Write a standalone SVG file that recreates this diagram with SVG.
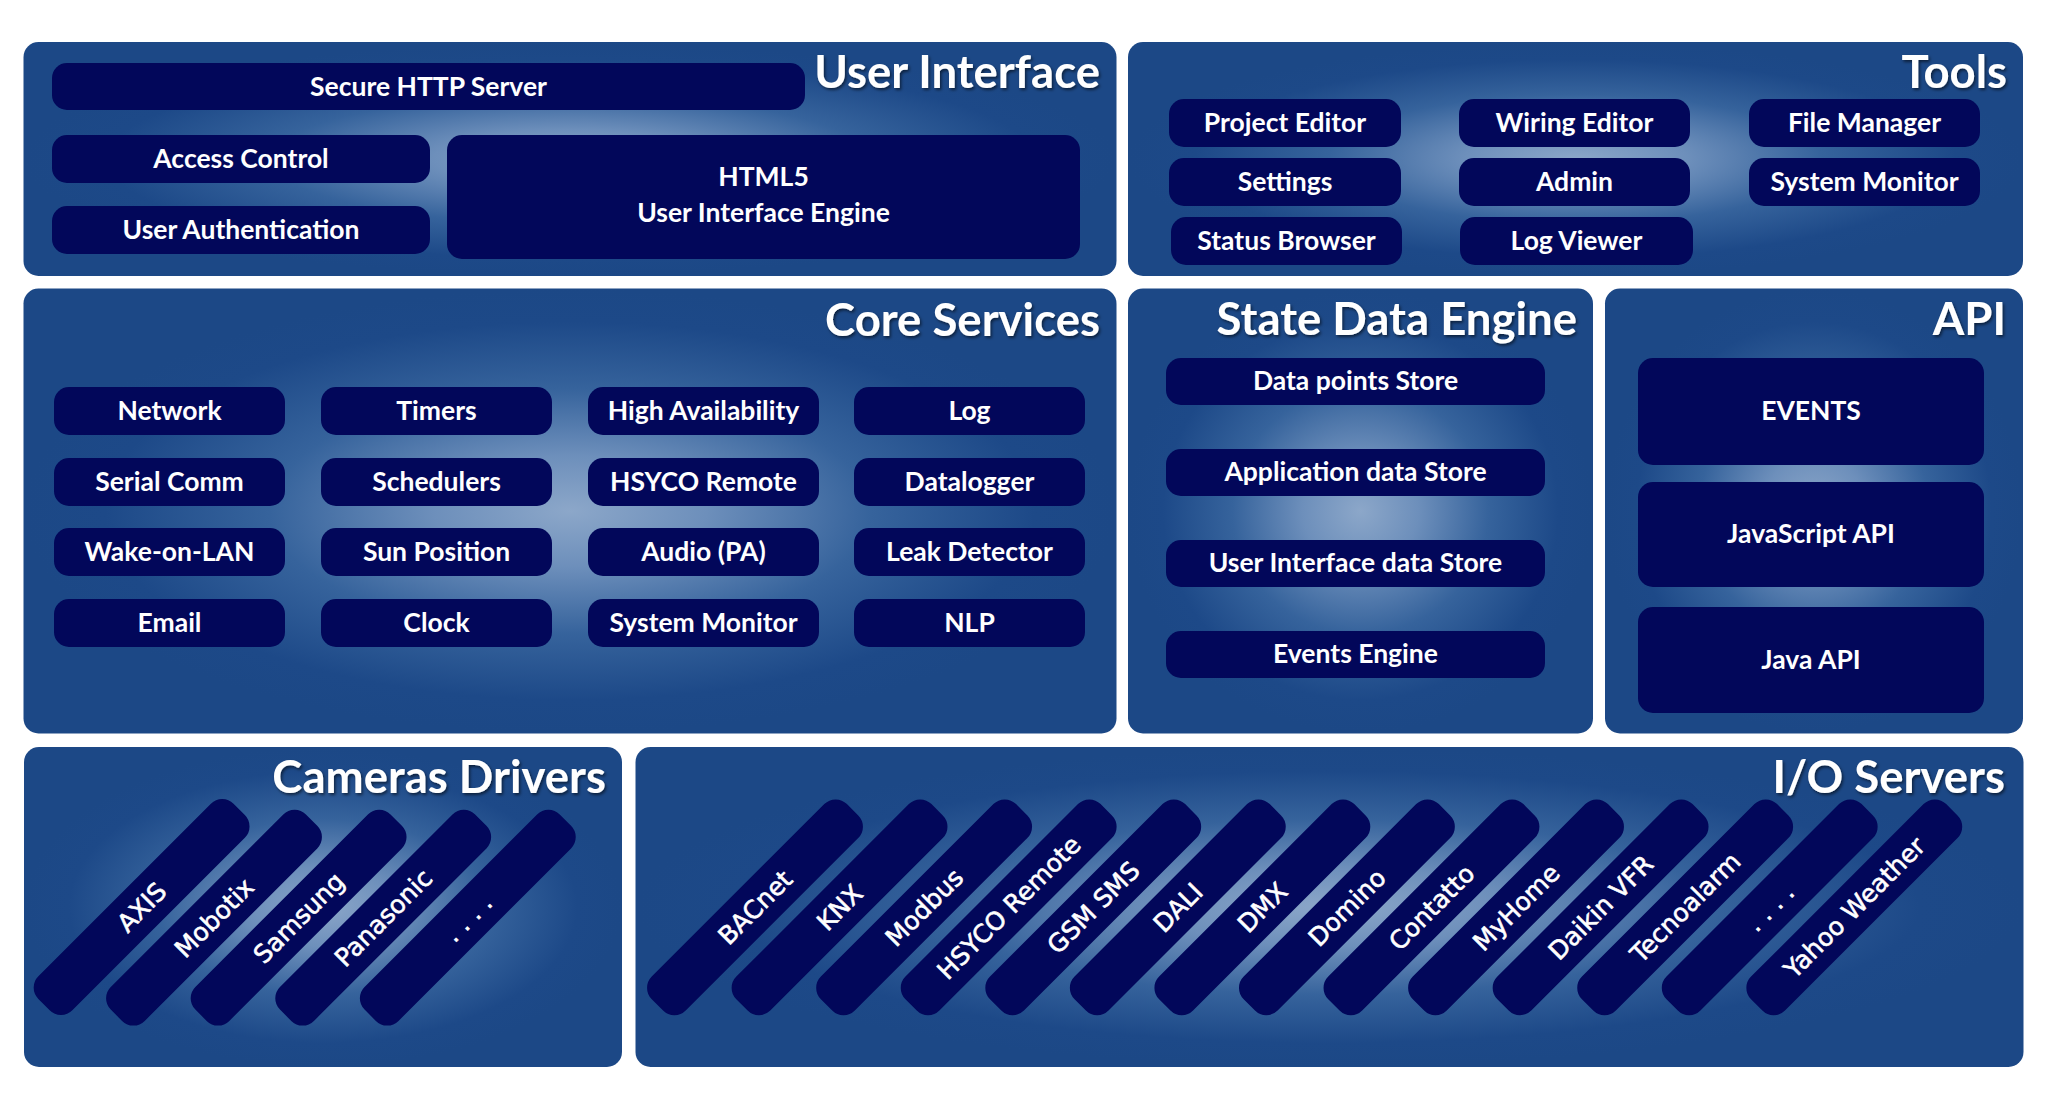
<svg xmlns="http://www.w3.org/2000/svg" width="2048" height="1108" viewBox="0 0 2048 1108">
<defs>
<radialGradient id="pg" cx="0.5" cy="0.5" r="0.5">
<stop offset="0" stop-color="#8ca7c9"/>
<stop offset="0.25" stop-color="#6d8fbb"/>
<stop offset="0.55" stop-color="#36639c"/>
<stop offset="0.85" stop-color="#1d4988"/>
<stop offset="1" stop-color="#1c4886"/>
</radialGradient>
<filter id="tsh" x="-10%" y="-20%" width="120%" height="150%">
<feDropShadow dx="1.5" dy="2" stdDeviation="1.5" flood-color="#000" flood-opacity="0.55"/>
</filter>
</defs>
<style>
.panel{fill:url(#pg);}
.node{fill:#02075a;}
.pill{fill:#02075a;}
.lbl{font-family:Lato,'Liberation Sans',sans-serif;font-weight:700;font-size:26.5px;fill:#fff;text-anchor:middle;}
.ttl{font-family:Lato,'Liberation Sans',sans-serif;font-weight:700;font-size:45.5px;fill:#fff;text-anchor:end;filter:url(#tsh);}
.plbl{font-family:'DejaVu Sans','Liberation Sans',sans-serif;font-size:25px;fill:#fff;stroke:#fff;stroke-width:0.6;text-anchor:middle;}
</style>
<rect width="2048" height="1108" fill="#fff"/>

<!-- User Interface -->
<g id="panel-ui">
<rect class="panel" x="23.5" y="42" width="1093" height="234" rx="15"/>
<text class="ttl" x="1100" y="88">User Interface</text>
</g>
<g id="ui-secure-http"><rect class="node" x="52" y="63" width="753" height="47" rx="15"/><text class="lbl" x="428.5" y="96">Secure HTTP Server</text></g>
<g id="ui-access-control"><rect class="node" x="52" y="135" width="378" height="48" rx="15"/><text class="lbl" x="241" y="168">Access Control</text></g>
<g id="ui-user-auth"><rect class="node" x="52" y="206" width="378" height="48" rx="15"/><text class="lbl" x="241" y="239">User Authentication</text></g>
<g id="ui-html5"><rect class="node" x="447" y="135" width="633" height="124" rx="15"/><text class="lbl" x="763.5" y="186">HTML5</text><text class="lbl" x="763.5" y="222">User Interface Engine</text></g>

<!-- Tools -->
<g id="panel-tools">
<rect class="panel" x="1128" y="42" width="895" height="234" rx="15"/>
<text class="ttl" x="2007" y="88">Tools</text>
</g>
<g id="tools-project-editor"><rect class="node" x="1169" y="99" width="232" height="48" rx="15"/><text class="lbl" x="1285" y="132">Project Editor</text></g>
<g id="tools-wiring-editor"><rect class="node" x="1459" y="99" width="231" height="48" rx="15"/><text class="lbl" x="1574.5" y="132">Wiring Editor</text></g>
<g id="tools-file-manager"><rect class="node" x="1749" y="99" width="231" height="48" rx="15"/><text class="lbl" x="1864.5" y="132">File Manager</text></g>
<g id="tools-settings"><rect class="node" x="1169" y="158" width="232" height="48" rx="15"/><text class="lbl" x="1285" y="191">Settings</text></g>
<g id="tools-admin"><rect class="node" x="1459" y="158" width="231" height="48" rx="15"/><text class="lbl" x="1574.5" y="191">Admin</text></g>
<g id="tools-system-monitor"><rect class="node" x="1749" y="158" width="231" height="48" rx="15"/><text class="lbl" x="1864.5" y="191">System Monitor</text></g>
<g id="tools-status-browser"><rect class="node" x="1171" y="217" width="231" height="48" rx="15"/><text class="lbl" x="1286.5" y="250">Status Browser</text></g>
<g id="tools-log-viewer"><rect class="node" x="1460" y="217" width="233" height="48" rx="15"/><text class="lbl" x="1576.5" y="250">Log Viewer</text></g>

<!-- Core Services -->
<g id="panel-core">
<rect class="panel" x="23.5" y="288.5" width="1093" height="445" rx="15"/>
<text class="ttl" x="1100" y="336">Core Services</text>
</g>
<g id="core-network"><rect class="node" x="54" y="387" width="231" height="48" rx="15"/><text class="lbl" x="169.5" y="420">Network</text></g>
<g id="core-timers"><rect class="node" x="321" y="387" width="231" height="48" rx="15"/><text class="lbl" x="436.5" y="420">Timers</text></g>
<g id="core-ha"><rect class="node" x="588" y="387" width="231" height="48" rx="15"/><text class="lbl" x="703.5" y="420">High Availability</text></g>
<g id="core-log"><rect class="node" x="854" y="387" width="231" height="48" rx="15"/><text class="lbl" x="969.5" y="420">Log</text></g>
<g id="core-serial"><rect class="node" x="54" y="458" width="231" height="48" rx="15"/><text class="lbl" x="169.5" y="491">Serial Comm</text></g>
<g id="core-schedulers"><rect class="node" x="321" y="458" width="231" height="48" rx="15"/><text class="lbl" x="436.5" y="491">Schedulers</text></g>
<g id="core-hsyco-remote"><rect class="node" x="588" y="458" width="231" height="48" rx="15"/><text class="lbl" x="703.5" y="491">HSYCO Remote</text></g>
<g id="core-datalogger"><rect class="node" x="854" y="458" width="231" height="48" rx="15"/><text class="lbl" x="969.5" y="491">Datalogger</text></g>
<g id="core-wol"><rect class="node" x="54" y="528" width="231" height="48" rx="15"/><text class="lbl" x="169.5" y="561">Wake-on-LAN</text></g>
<g id="core-sun"><rect class="node" x="321" y="528" width="231" height="48" rx="15"/><text class="lbl" x="436.5" y="561">Sun Position</text></g>
<g id="core-audio"><rect class="node" x="588" y="528" width="231" height="48" rx="15"/><text class="lbl" x="703.5" y="561">Audio (PA)</text></g>
<g id="core-leak"><rect class="node" x="854" y="528" width="231" height="48" rx="15"/><text class="lbl" x="969.5" y="561">Leak Detector</text></g>
<g id="core-email"><rect class="node" x="54" y="599" width="231" height="48" rx="15"/><text class="lbl" x="169.5" y="632">Email</text></g>
<g id="core-clock"><rect class="node" x="321" y="599" width="231" height="48" rx="15"/><text class="lbl" x="436.5" y="632">Clock</text></g>
<g id="core-sysmon"><rect class="node" x="588" y="599" width="231" height="48" rx="15"/><text class="lbl" x="703.5" y="632">System Monitor</text></g>
<g id="core-nlp"><rect class="node" x="854" y="599" width="231" height="48" rx="15"/><text class="lbl" x="969.5" y="632">NLP</text></g>

<!-- State Data Engine -->
<g id="panel-sde">
<rect class="panel" x="1128" y="288.5" width="465" height="445" rx="15"/>
<text class="ttl" x="1577" y="335">State Data Engine</text>
</g>
<g id="sde-datapoints"><rect class="node" x="1166" y="358" width="379" height="47" rx="15"/><text class="lbl" x="1355.5" y="390">Data points Store</text></g>
<g id="sde-appdata"><rect class="node" x="1166" y="449" width="379" height="47" rx="15"/><text class="lbl" x="1355.5" y="481">Application data Store</text></g>
<g id="sde-uidata"><rect class="node" x="1166" y="540" width="379" height="47" rx="15"/><text class="lbl" x="1355.5" y="572">User Interface data Store</text></g>
<g id="sde-events"><rect class="node" x="1166" y="631" width="379" height="47" rx="15"/><text class="lbl" x="1355.5" y="663">Events Engine</text></g>

<!-- API -->
<g id="panel-api">
<rect class="panel" x="1605" y="288.5" width="418" height="445" rx="15"/>
<text class="ttl" x="2006" y="335">API</text>
</g>
<g id="api-events"><rect class="node" x="1638" y="358" width="346" height="107" rx="15"/><text class="lbl" x="1811" y="420">EVENTS</text></g>
<g id="api-js"><rect class="node" x="1638" y="482" width="346" height="105" rx="15"/><text class="lbl" x="1811" y="543">JavaScript API</text></g>
<g id="api-java"><rect class="node" x="1638" y="607" width="346" height="106" rx="15"/><text class="lbl" x="1811" y="669">Java API</text></g>

<!-- Cameras Drivers -->
<g id="panel-cameras">
<rect class="panel" x="24" y="747" width="598" height="320" rx="15"/>
<text class="ttl" x="606" y="793">Cameras Drivers</text>
</g>
<g id="cam-axis" transform="translate(141.6 907) rotate(-45)"><rect class="pill" x="-138" y="-24" width="276" height="48" rx="16"/><text class="plbl" y="9">AXIS</text></g>
<g id="cam-mobotix" transform="translate(214 917.7) rotate(-45)"><rect class="pill" x="-138" y="-24" width="276" height="48" rx="16"/><text class="plbl" y="9">Mobotix</text></g>
<g id="cam-samsung" transform="translate(298.6 917.7) rotate(-45)"><rect class="pill" x="-138" y="-24" width="276" height="48" rx="16"/><text class="plbl" y="9">Samsung</text></g>
<g id="cam-panasonic" transform="translate(383.2 917.7) rotate(-45)"><rect class="pill" x="-138" y="-24" width="276" height="48" rx="16"/><text class="plbl" y="9">Panasonic</text></g>
<g id="cam-more" transform="translate(467.8 917.7) rotate(-45)"><rect class="pill" x="-138" y="-24" width="276" height="48" rx="16"/><text class="plbl" y="9">. . . .</text></g>

<!-- I/O Servers -->
<g id="panel-io">
<rect class="panel" x="635.5" y="747" width="1388" height="320" rx="15"/>
<text class="ttl" x="2005" y="793">I/O Servers</text>
</g>
<g id="io-bacnet" transform="translate(755 907.3) rotate(-45)"><rect class="pill" x="-138" y="-24" width="276" height="48" rx="16"/><text class="plbl" y="9">BACnet</text></g>
<g id="io-knx" transform="translate(839.56 907.3) rotate(-45)"><rect class="pill" x="-138" y="-24" width="276" height="48" rx="16"/><text class="plbl" y="9">KNX</text></g>
<g id="io-modbus" transform="translate(924.12 907.3) rotate(-45)"><rect class="pill" x="-138" y="-24" width="276" height="48" rx="16"/><text class="plbl" y="9">Modbus</text></g>
<g id="io-hsyco-remote" transform="translate(1008.68 907.3) rotate(-45)"><rect class="pill" x="-138" y="-24" width="276" height="48" rx="16"/><text class="plbl" y="9">HSYCO Remote</text></g>
<g id="io-gsm" transform="translate(1093.24 907.3) rotate(-45)"><rect class="pill" x="-138" y="-24" width="276" height="48" rx="16"/><text class="plbl" y="9">GSM SMS</text></g>
<g id="io-dali" transform="translate(1177.8 907.3) rotate(-45)"><rect class="pill" x="-138" y="-24" width="276" height="48" rx="16"/><text class="plbl" y="9">DALI</text></g>
<g id="io-dmx" transform="translate(1262.36 907.3) rotate(-45)"><rect class="pill" x="-138" y="-24" width="276" height="48" rx="16"/><text class="plbl" y="9">DMX</text></g>
<g id="io-domino" transform="translate(1346.92 907.3) rotate(-45)"><rect class="pill" x="-138" y="-24" width="276" height="48" rx="16"/><text class="plbl" y="9">Domino</text></g>
<g id="io-contatto" transform="translate(1431.48 907.3) rotate(-45)"><rect class="pill" x="-138" y="-24" width="276" height="48" rx="16"/><text class="plbl" y="9">Contatto</text></g>
<g id="io-myhome" transform="translate(1516.04 907.3) rotate(-45)"><rect class="pill" x="-138" y="-24" width="276" height="48" rx="16"/><text class="plbl" y="9">MyHome</text></g>
<g id="io-daikin" transform="translate(1600.6 907.3) rotate(-45)"><rect class="pill" x="-138" y="-24" width="276" height="48" rx="16"/><text class="plbl" y="9">Daikin VFR</text></g>
<g id="io-tecnoalarm" transform="translate(1685.16 907.3) rotate(-45)"><rect class="pill" x="-138" y="-24" width="276" height="48" rx="16"/><text class="plbl" y="9">Tecnoalarm</text></g>
<g id="io-more" transform="translate(1769.72 907.3) rotate(-45)"><rect class="pill" x="-138" y="-24" width="276" height="48" rx="16"/><text class="plbl" y="9">. . . .</text></g>
<g id="io-yahoo" transform="translate(1854.28 907.3) rotate(-45)"><rect class="pill" x="-138" y="-24" width="276" height="48" rx="16"/><text class="plbl" y="9">Yahoo Weather</text></g>

<g id="connectors"/>
</svg>
